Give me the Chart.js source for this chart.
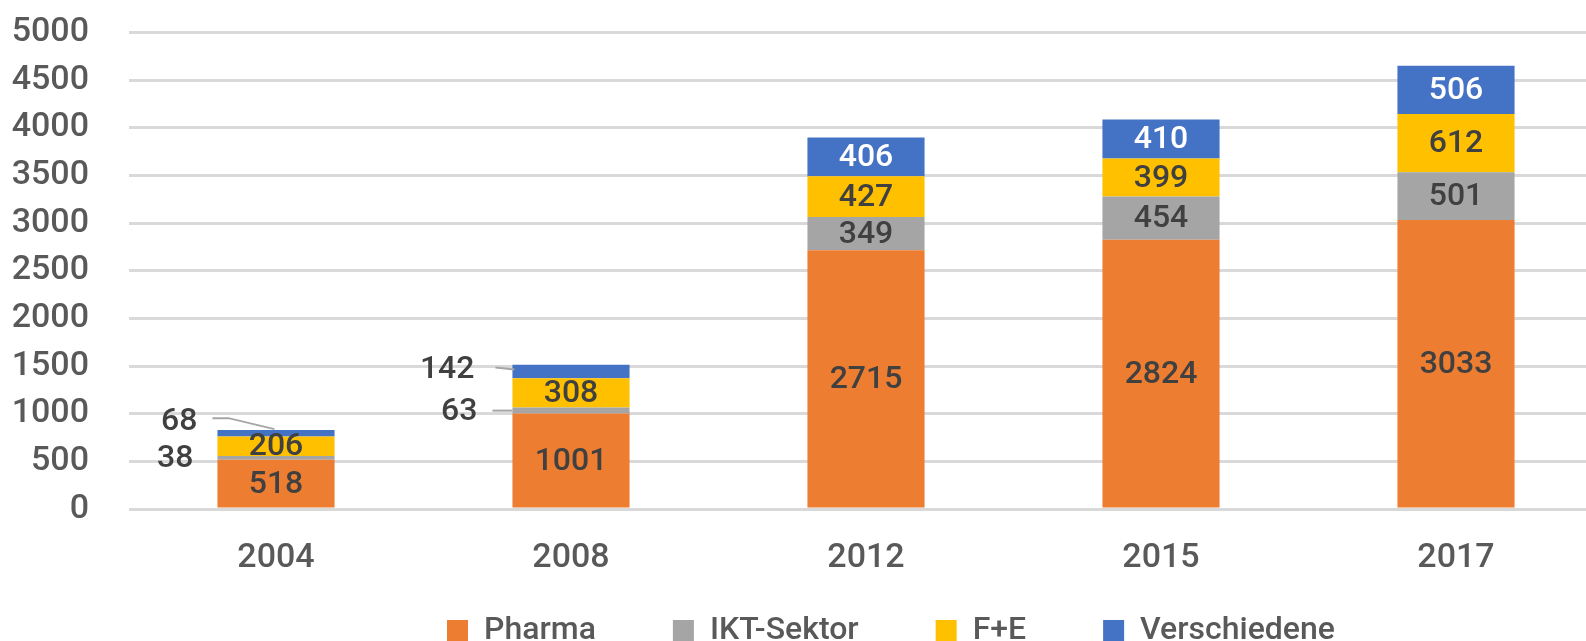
<!DOCTYPE html>
<html>
<head>
<meta charset="utf-8">
<script src="https://cdn.jsdelivr.net/npm/chart.js@4.4.1/dist/chart.umd.min.js"></script>
<style>
html, body { margin: 0; padding: 0; background: #fff; }
</style>
</head>
<body>
<canvas id="chBar" width="1586" height="641"></canvas>
<script>
// data
var years = [ '2004', '2008', '2012', '2015', '2017' ];
var pharma = [ 518, 1001, 2715, 2824, 3033 ];
var ikt = [ 38, 63, 349, 454, 501 ];
var fue = [ 206, 308, 427, 399, 612 ];
var versch = [ 68, 142, 406, 410, 506 ];
var yTicks = [ 0, 500, 1000, 1500, 2000, 2500, 3000, 3500, 4000, 4500, 5000 ];

// chart colors
var colors = [ '#ED7D31', '#A5A5A5', '#FFC000', '#4472C4' ];
var textColor = '#595959';
var labelColor = '#404040';

Chart.defaults.font.family = 'Roboto';
Chart.defaults.font.size = 34;
Chart.defaults.font.weight = 500;
Chart.defaults.color = textColor;

// labels drawn left of a thin bar: gap from bar left, shift, leader points (bar left / segment centre)
var outside = {
	'1-0': { gap: 24, dy: 1, line: null },
	'3-0': { gap: 20, dy: -11.5, line: [ [ -5, -15 ], [ 11, -15 ], [ 57, -4 ] ] },
	'1-1': { gap: 35, dy: 1.5, line: [ [ -20, 0 ], [ 0, 0 ] ] },
	'3-1': { gap: 38, dy: -1.5, line: [ [ -17, -4 ], [ 2, -2 ] ] }
};

var barLabels = {
	id: 'barLabels',
	beforeLayout: function (chart) {
		var lg = chart.legend;
		if (lg && !lg._fixed) {
			var fit = lg.fit;
			lg.fit = function () { fit.call(this); this.height = 60; };
			lg._fixed = true;
		}
	},
	afterLayout: function (chart) {
		// plot runs past the right edge, as in the source picture
		var area = chart.chartArea;
		var xs = chart.scales.x;
		var ys = chart.scales.y;
		xs.right = 1603.5;
		xs.width = xs.right - xs.left;
		xs.configure();
		ys.top = 32.5;
		ys.bottom = 509;
		ys.height = ys.bottom - ys.top;
		ys.configure();
		area.right = xs.right;
		area.width = xs.right - area.left;
		area.top = ys.top;
		area.bottom = ys.bottom;
		area.height = ys.height;
		var lg = chart.legend;
		var w = lg.right - lg.left;
		lg.left = 370;
		lg.right = lg.left + w;
		lg.top = 537.5;
		lg.bottom = 660;
	},
	afterDatasetsDraw: function (chart) {
		var ctx = chart.ctx;
		ctx.save();
		ctx.font = '500 32px Roboto';
		ctx.textBaseline = 'middle';
		chart.data.datasets.forEach(function (ds, di) {
			var meta = chart.getDatasetMeta(di);
			meta.data.forEach(function (el, i) {
				var left = el.x - el.width / 2;
				var mid = (el.y + el.base) / 2;
				var o = outside[di + '-' + i];
				if (o) {
					if (o.line) {
						ctx.strokeStyle = '#A6A6A6';
						ctx.lineWidth = 2;
						ctx.beginPath();
						o.line.forEach(function (p, k) {
							if (k === 0) ctx.moveTo(left + p[0], mid + p[1]);
							else ctx.lineTo(left + p[0], mid + p[1]);
						});
						ctx.stroke();
					}
					ctx.fillStyle = labelColor;
					ctx.textAlign = 'right';
					ctx.fillText(ds.data[i], left - o.gap, mid + o.dy);
				} else {
					ctx.fillStyle = di === 3 ? '#ffffff' : labelColor;
					ctx.textAlign = 'center';
					ctx.fillText(ds.data[i], el.x, mid + 1);
				}
			});
		});
		ctx.restore();
	}
};

var chBar = document.getElementById('chBar');
new Chart(chBar, {
	type: 'bar',
	data: {
		labels: years,
		datasets: [
			{ label: 'Pharma', data: pharma, backgroundColor: colors[0] },
			{ label: 'IKT-Sektor', data: ikt, backgroundColor: colors[1] },
			{ label: 'F+E', data: fue, backgroundColor: colors[2] },
			{ label: 'Verschiedene', data: versch, backgroundColor: colors[3] }
		]
	},
	options: {
		responsive: false,
		animation: false,
		devicePixelRatio: 1,
		layout: { padding: { top: 32.5, left: 0, right: 0, bottom: 0 } },
		datasets: { bar: { barPercentage: 1, categoryPercentage: 0.397, borderWidth: 0 } },
		plugins: {
			tooltip: { enabled: false },
			legend: {
				position: 'bottom',
				align: 'start',
				labels: { boxWidth: 21, boxHeight: 21, padding: 77, color: textColor, font: { size: 32, weight: 500 } }
			}
		},
		scales: {
			x: {
				stacked: true,
				grid: { display: false },
				border: { display: false },
				ticks: { padding: 21, color: textColor, font: { size: 34, weight: 500 } },
				afterFit: function (s) { s.height = 72; }
			},
			y: {
				stacked: true,
				min: yTicks[0],
				max: yTicks[yTicks.length - 1],
				grid: { color: '#D9D9D9', lineWidth: 3, drawTicks: false },
				border: { display: false },
				ticks: {
					stepSize: yTicks[1] - yTicks[0],
					padding: 39.5,
					color: textColor,
					font: { size: 34, weight: 500 },
					callback: function (v) { return String(v); }
				},
				afterFit: function (s) { s.width = 128.5; }
			}
		}
	},
	plugins: [ barLabels ]
});
</script>
</body>
</html>
